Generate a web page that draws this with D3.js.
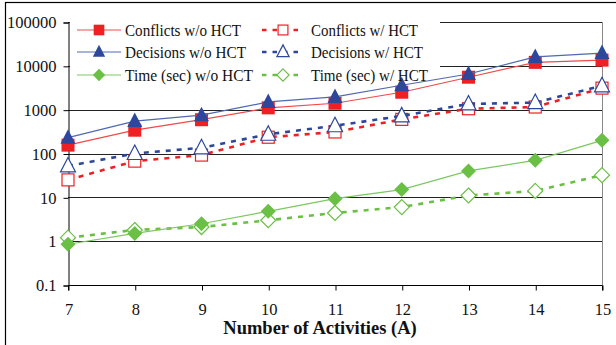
<!DOCTYPE html>
<html><head><meta charset="utf-8">
<script src="https://cdn.jsdelivr.net/npm/d3@7"></script>
<style>body{margin:0;background:#fff}svg{display:block}</style>
</head><body>
<svg id="c" width="616" height="345"></svg>
<script>
const activities = [7, 8, 9, 10, 11, 12, 13, 14, 15];
const conflictsNo = [155, 340, 590, 1100, 1400, 2500, 5500, 12000, 13500];
const conflictsHct = [25, 67, 92, 235, 310, 600, 1050, 1150, 3100];
const decisionsNo = [230, 550, 750, 1500, 1950, 3600, 6500, 16000, 19500];
const decisionsHct = [52, 100, 135, 275, 430, 720, 1350, 1450, 3500];
const timeNo = [0.85, 1.5, 2.5, 4.8, 9.3, 15, 40, 70, 200];
const timeHct = [1.2, 1.8, 2.1, 3.0, 4.4, 6, 11, 14, 32];
const yTicks = [0.1, 1, 10, 100, 1000, 10000, 100000];
const yTickLabels = ["0.1", "1", "10", "100", "1000", "10000", "100000"];
const seriesNames = ["Conflicts w/o HCT", "Decisions w/o HCT", "Time (sec) w/o HCT",
                     "Conflicts w/ HCT", "Decisions w/ HCT", "Time (sec) w/ HCT"];
const xTitle = "Number of Activities (A)";

const RED = "#ee2024", BLUE = "#2c479b", GREEN = "#6abf45";
const series = [
  {name: seriesNames[0], values: conflictsNo, color: RED, line: "#f04a4a", dashed: false, shape: "square", filled: true},
  {name: seriesNames[1], values: decisionsNo, color: BLUE, line: "#5068b0", dashed: false, shape: "triangle", filled: true},
  {name: seriesNames[2], values: timeNo, color: GREEN, line: "#7cc860", dashed: false, shape: "diamond", filled: true},
  {name: seriesNames[3], values: conflictsHct, color: RED, line: RED, dashed: true, shape: "square", filled: false},
  {name: seriesNames[4], values: decisionsHct, color: BLUE, line: BLUE, dashed: true, shape: "triangle", filled: false},
  {name: seriesNames[5], values: timeHct, color: GREEN, line: GREEN, dashed: true, shape: "diamond", filled: false}
];
// legend label widths in px (layout)
const legendTextWidths = [116, 121, 128, 107, 112, 117];

const svg = d3.select("#c");
const font = "'Liberation Serif','Times New Roman',serif";
const L = 68, R = 602, T = 22, B = 285;
const x = d3.scaleLinear().domain([7, 15]).range([L, R]);
const y = d3.scaleLog().domain([0.1, 100000]).range([B, T]);

// outer frame
svg.append("rect").attr("x", 5.5).attr("y", 2.5).attr("width", 640).attr("height", 400)
  .attr("fill", "none").attr("stroke", "#000").attr("stroke-width", 1.2);

// gridlines
svg.append("g").selectAll("line").data(yTicks.slice(1)).join("line")
  .attr("x1", L).attr("x2", R)
  .attr("y1", d => Math.round(y(d)) + 0.5).attr("y2", d => Math.round(y(d)) + 0.5)
  .attr("stroke", "#222").attr("stroke-width", 1);
// right border
svg.append("line").attr("x1", R + 0.5).attr("x2", R + 0.5).attr("y1", T).attr("y2", B)
  .attr("stroke", "#888").attr("stroke-width", 1);

// legend background
svg.append("rect").attr("x", 70).attr("y", 10).attr("width", 370).attr("height", 74).attr("fill", "#fff");

// axes
const yAxis = d3.axisLeft(y).tickValues(yTicks).tickFormat((d, i) => yTickLabels[i]).tickSize(5).tickPadding(7);
const gy = svg.append("g").attr("transform", `translate(${L + 0.5},0.5)`).call(yAxis);
const xAxis = d3.axisBottom(x).tickValues(activities).tickFormat(d3.format("d")).tickSize(5).tickPadding(13);
const gx = svg.append("g").attr("transform", `translate(0.5,${B + 0.5})`).call(xAxis);
[gx, gy].forEach(g => {
  g.select(".domain").attr("stroke", "#000");
  g.selectAll(".tick line").attr("stroke", "#000");
  g.selectAll("text").attr("font-family", font).attr("font-size", 16.5).attr("fill", "#111");
});
gx.select(".domain").attr("d", `M${L},5V0H${R}V5`);

svg.append("text").attr("x", 320).attr("y", 334).attr("text-anchor", "middle")
  .attr("font-family", font).attr("font-weight", "bold").attr("font-size", 18.5).attr("fill", "#111")
  .text(xTitle);

function marker(g, s, cx, cy, k) {
  const fill = s.filled ? s.color : "#fff";
  const sw = s.filled ? 0 : 1.2;
  let el;
  if (s.shape === "square") {
    const h = (s.filled ? 6.5 : 6) * k;
    el = g.append("rect").attr("x", cx - h).attr("y", cy - h).attr("width", 2 * h).attr("height", 2 * h);
  } else if (s.shape === "triangle") {
    const h = 7.5 * k;
    el = g.append("path").attr("d", `M${cx},${cy - h - 1}L${cx + h},${cy + h - 1.5}L${cx - h},${cy + h - 1.5}Z`);
  } else {
    const h = 7.5 * k;
    el = g.append("path").attr("d", `M${cx},${cy - h}L${cx + h},${cy}L${cx},${cy + h}L${cx - h},${cy}Z`);
  }
  el.attr("fill", fill).attr("stroke", s.color).attr("stroke-width", sw);
}

const line = d3.line().x((d, i) => x(activities[i])).y(d => y(d));
const order = [5, 2, 3, 4, 0, 1];
order.forEach(k => {
  const s = series[k];
  const g = svg.append("g");
  g.append("path").attr("d", line(s.values)).attr("fill", "none")
    .attr("stroke", s.line).attr("stroke-width", s.dashed ? 2.6 : 1.2)
    .attr("stroke-dasharray", s.dashed ? "5,6" : null);
  s.values.forEach((v, i) => marker(g, s, x(activities[i]), y(v), 1));
});

// legend
const legRows = [30, 52, 75];
series.forEach((s, k) => {
  const col = k < 3 ? 0 : 1;
  const row = k % 3;
  const x0 = col === 0 ? 77 : 262, x1 = col === 0 ? 121 : 304, tx = col === 0 ? 125 : 311;
  const cy = legRows[row];
  const g = svg.append("g");
  g.append("line").attr("x1", x0).attr("x2", x1).attr("y1", cy).attr("y2", cy)
    .attr("stroke", s.line).attr("stroke-width", s.dashed ? 2.6 : 1.2)
    .attr("stroke-dasharray", s.dashed ? "4.5,6" : null);
  marker(g, s, (x0 + x1) / 2, cy, 0.82);
  g.append("text").attr("x", tx).attr("y", cy + 5.5).attr("font-family", font).attr("font-size", 17)
    .attr("textLength", legendTextWidths[k]).attr("lengthAdjust", "spacingAndGlyphs")
    .attr("fill", "#111").text(s.name);
});
</script>
</body></html>
